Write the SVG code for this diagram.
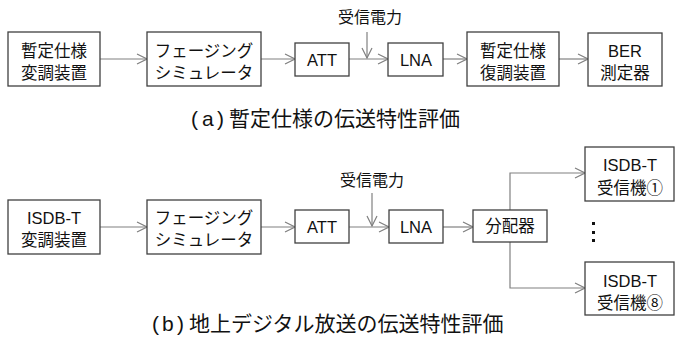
<svg xmlns="http://www.w3.org/2000/svg" width="676" height="347" viewBox="0 0 676 347">
<defs>
<style>
.box{fill:#fff;stroke:#404040;stroke-width:1.3}
.ln{fill:none;stroke:#808080;stroke-width:1.2}
text{font-family:"Liberation Sans","Noto Sans CJK JP",sans-serif;fill:#111;text-anchor:middle}
.t{font-size:16.5px}
.s{font-size:16px}
.cap{font-size:21px;text-anchor:start}
</style>
<marker id="ah" viewBox="0 0 12 12" refX="11" refY="6" markerWidth="12" markerHeight="12" markerUnits="userSpaceOnUse" orient="auto">
<path d="M1,1 L11,6 L1,11" fill="none" stroke="#808080" stroke-width="1.2"/>
</marker>
</defs>
<rect width="676" height="347" fill="#fff"/>

<g id="connectors">
<line class="ln" x1="100" y1="59" x2="147" y2="59" marker-end="url(#ah)"/>
<line class="ln" x1="261" y1="59" x2="295" y2="59" marker-end="url(#ah)"/>
<line class="ln" x1="349" y1="59" x2="388" y2="59" marker-end="url(#ah)"/>
<line class="ln" x1="443" y1="59" x2="467" y2="59" marker-end="url(#ah)"/>
<line class="ln" x1="559" y1="59" x2="588" y2="59" marker-end="url(#ah)"/>
<line class="ln" x1="367" y1="32" x2="367" y2="58" marker-end="url(#ah)"/>

<line class="ln" x1="100" y1="227" x2="147" y2="227" marker-end="url(#ah)"/>
<line class="ln" x1="261" y1="227" x2="295" y2="227" marker-end="url(#ah)"/>
<line class="ln" x1="349" y1="227" x2="389" y2="227" marker-end="url(#ah)"/>
<line class="ln" x1="443" y1="227" x2="473" y2="227" marker-end="url(#ah)"/>
<line class="ln" x1="372" y1="193" x2="372" y2="226" marker-end="url(#ah)"/>
<polyline class="ln" points="510,210 510,173 585,173" marker-end="url(#ah)"/>
<polyline class="ln" points="510,242 510,288 585,288" marker-end="url(#ah)"/>
</g>

<g id="a_label">
<text class="s" x="370" y="23">受信電力</text>
</g>
<g id="a_mod">
<rect class="box" x="8" y="32" width="92" height="54"/>
<text class="t" x="54" y="57">暫定仕様</text>
<text class="t" x="54" y="79">変調装置</text>
</g>
<g id="a_fading">
<rect class="box" x="147" y="32" width="114" height="54"/>
<text class="t" x="204" y="57">フェージング</text>
<text class="t" x="204" y="79">シミュレータ</text>
</g>
<g id="a_att">
<rect class="box" x="295" y="43" width="54" height="33"/>
<text class="t" x="322" y="65.5">ATT</text>
</g>
<g id="a_lna">
<rect class="box" x="388" y="43" width="55" height="33"/>
<text class="t" x="416" y="65.5">LNA</text>
</g>
<g id="a_demod">
<rect class="box" x="467" y="32" width="92" height="54"/>
<text class="t" x="513" y="57">暫定仕様</text>
<text class="t" x="513" y="79">復調装置</text>
</g>
<g id="a_ber">
<rect class="box" x="588" y="33" width="74" height="53"/>
<text class="t" x="625" y="57">BER</text>
<text class="t" x="625" y="79">測定器</text>
</g>
<text class="cap" y="126"><tspan x="191">(</tspan><tspan x="202">a</tspan><tspan x="217">)</tspan><tspan x="229">暫定仕様の伝送特性評価</tspan></text>

<g id="b_label">
<text class="s" x="372" y="186">受信電力</text>
</g>
<g id="b_mod">
<rect class="box" x="8" y="200" width="92" height="54"/>
<text class="t" x="54" y="224">ISDB-T</text>
<text class="t" x="54" y="246">変調装置</text>
</g>
<g id="b_fading">
<rect class="box" x="147" y="200" width="114" height="54"/>
<text class="t" x="204" y="224">フェージング</text>
<text class="t" x="204" y="246">シミュレータ</text>
</g>
<g id="b_att">
<rect class="box" x="295" y="210" width="54" height="33"/>
<text class="t" x="322" y="232.5">ATT</text>
</g>
<g id="b_lna">
<rect class="box" x="389" y="210" width="54" height="33"/>
<text class="t" x="416" y="232.5">LNA</text>
</g>
<g id="b_splitter">
<rect class="box" x="473" y="210" width="74" height="32"/>
<text class="t" x="510" y="232">分配器</text>
</g>
<g id="b_rx1">
<rect class="box" x="585" y="147" width="89" height="54"/>
<text class="t" x="630" y="171">ISDB-T</text>
<text class="t" x="630" y="194">受信機①</text>
</g>
<g id="b_dots">
<rect x="592" y="222" width="3" height="3" fill="#111"/>
<rect x="592" y="231" width="3" height="3" fill="#111"/>
<rect x="592" y="239" width="3" height="3" fill="#111"/>
</g>
<g id="b_rx8">
<rect class="box" x="585" y="262" width="89" height="53"/>
<text class="t" x="630" y="287">ISDB-T</text>
<text class="t" x="630" y="309">受信機⑧</text>
</g>
<text class="cap" y="331"><tspan x="152">(</tspan><tspan x="162">b</tspan><tspan x="177">)</tspan><tspan x="189">地上デジタル放送の伝送特性評価</tspan></text>
</svg>
